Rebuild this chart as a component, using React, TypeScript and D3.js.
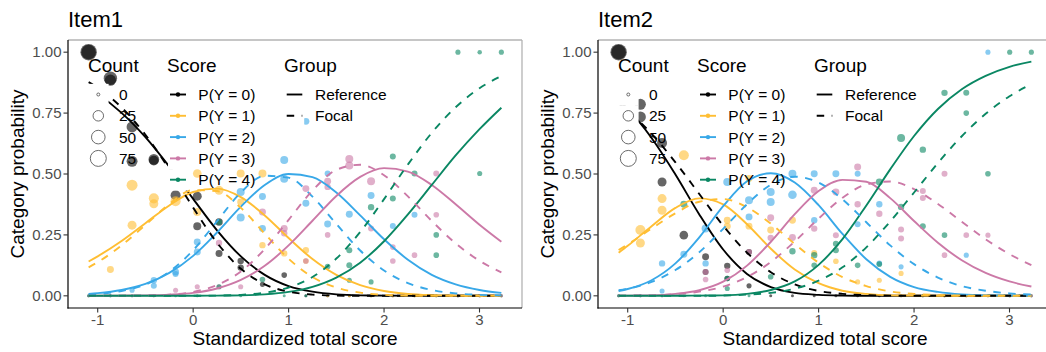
import React from "react";
import * as d3 from "d3";

// ---------------- data ----------------
const scores = [-1.095, -0.867, -0.64, -0.412, -0.184, 0.043, 0.271, 0.498, 0.726, 0.954, 1.181, 1.409, 1.636, 1.864, 2.092, 2.319, 2.547, 2.774, 3.002, 3.229];
const categoryLabels = ["P(Y = 0)", "P(Y = 1)", "P(Y = 2)", "P(Y = 3)", "P(Y = 4)"];
const categoryColors = ["#000000", "#FFBE33", "#38A8E8", "#CC79A7", "#0A8763"];
const countBreaks = [0, 25, 50, 75];
const groupLabels = ["Reference", "Focal"];
const xTicks = [-1, 0, 1, 2, 3];
const yTicks = [0, 0.25, 0.5, 0.75, 1];
const yTickLabels = ["0.00", "0.25", "0.50", "0.75", "1.00"];

// observed proportions: [score index, proportion, count]
const item1Obs0 = [[0, 1, 80], [0, 1, 60], [1, 0.893, 48], [1, 0.885, 30], [2, 0.693, 28], [2, 0.552, 28], [3, 0.56, 26], [3, 0.555, 20], [4, 0.413, 22], [5, 0.409, 16], [5, 0.286, 11], [6, 0.303, 9], [6, 0.174, 7], [7, 0.143, 5], [7, 0.116, 5], [8, 0.047, 2], [9, 0.085, 3]];
const item1Obs1 = [[1, 0.108, 7], [2, 0.454, 28], [2, 0.29, 16], [3, 0.4, 22], [3, 0.378, 16], [4, 0.388, 22], [5, 0.502, 14], [5, 0.344, 11], [6, 0.433, 16], [7, 0.502, 11], [7, 0.385, 7], [8, 0.502, 11], [8, 0.208, 5], [9, 0.174, 5], [10, 0.187, 5], [10, 0.143, 3]];
const item1Obs2 = [[2, 0.023, 2], [3, 0.064, 5], [3, 0.041, 4], [4, 0.098, 7], [4, 0.09, 4], [5, 0.221, 7], [5, 0.18, 7], [7, 0.426, 11], [7, 0.321, 11], [8, 0.408, 7], [8, 0.276, 7], [9, 0.557, 11], [9, 0.48, 11], [10, 0.716, 7], [10, 0.38, 7], [11, 0.502, 4], [11, 0.295, 7], [12, 0.335, 7], [13, 0.412, 7], [14, 0.287, 4], [15, 0.333, 4]];
const item1Obs3 = [[4, 0.023, 2], [5, 0.037, 2], [6, 0.217, 5], [6, 0.037, 2], [7, 0.037, 2], [8, 0.344, 7], [9, 0.276, 7], [9, 0.257, 5], [10, 0.44, 7], [10, 0.143, 3], [11, 0.47, 7], [11, 0.447, 5], [11, 0.25, 3], [12, 0.562, 11], [12, 0.535, 11], [13, 0.47, 11], [13, 0.276, 4], [14, 0.2, 3], [14, 0.143, 3], [15, 0.167, 3], [16, 0.333, 3], [16, 0.502, 4]];
const item1Obs4 = [[6, 0.303, 4], [6, 0.037, 2], [8, 0.067, 3], [11, 0.12, 3], [12, 0.187, 4], [12, 0.125, 4], [12, 0.064, 2], [13, 0.364, 5], [13, 0.057, 2], [14, 0.572, 4], [14, 0.399, 4], [15, 0.502, 4], [16, 0.25, 3], [16, 0.167, 3], [17, 1, 2], [18, 1, 1], [18, 0.502, 2], [19, 1, 2]];
const item1Empty = [[10, 11, 12, 13, 14, 15, 16, 17, 18, 19], [0, 11, 12, 13, 14, 15, 16, 17, 18, 19], [0, 1, 16, 17, 18, 19], [0, 1, 2, 3, 17, 18, 19], [0, 1, 2, 3, 4, 5, 7, 9, 10]];

const item2Obs0 = [[0, 1, 80], [0, 1, 60], [1, 0.786, 28], [1, 0.734, 28], [2, 0.627, 22], [2, 0.467, 16], [3, 0.249, 14], [4, 0.16, 7], [4, 0.098, 4], [5, 0.123, 5], [5, 0.071, 3], [6, 0.18, 4], [6, 0.041, 2]];
const item2Obs1 = [[1, 0.27, 22], [1, 0.217, 16], [2, 0.399, 16], [2, 0.351, 16], [3, 0.577, 22], [5, 0.31, 7], [5, 0.286, 7], [6, 0.482, 7], [6, 0.286, 7], [7, 0.27, 7], [8, 0.31, 7], [9, 0.176, 4], [10, 0.142, 3], [11, 0.057, 2], [12, 0.064, 2], [13, 0.092, 2]];
const item2Obs2 = [[2, 0.133, 5], [2, 0.02, 2], [3, 0.171, 7], [4, 0.276, 11], [4, 0.133, 5], [5, 0.467, 11], [6, 0.392, 11], [6, 0.324, 7], [7, 0.426, 11], [7, 0.385, 11], [8, 0.501, 11], [8, 0.415, 14], [9, 0.501, 7], [9, 0.31, 5], [10, 0.501, 7], [11, 0.501, 4], [11, 0.294, 4], [12, 0.376, 5], [12, 0.133, 3], [13, 0.119, 2], [16, 0.167, 2], [17, 1, 2]];
const item2Obs3 = [[4, 0.098, 4], [4, 0.067, 3], [5, 0.105, 3], [6, 0.18, 4], [7, 0.32, 7], [7, 0.238, 5], [8, 0.239, 7], [9, 0.433, 7], [9, 0.276, 5], [10, 0.426, 7], [10, 0.249, 4], [11, 0.529, 7], [11, 0.376, 5], [12, 0.337, 5], [13, 0.272, 4], [13, 0.235, 4], [14, 0.43, 4], [14, 0.402, 4], [15, 0.501, 4], [15, 0.167, 3], [16, 0.249, 3], [17, 0.249, 2]];
const item2Obs4 = [[3, 0.376, 7], [5, 0.071, 3], [5, 0.03, 2], [7, 0.078, 3], [8, 0.183, 5], [9, 0.167, 5], [9, 0.125, 3], [10, 0.214, 4], [10, 0.187, 4], [11, 0.125, 3], [12, 0.467, 7], [12, 0.13, 3], [13, 0.648, 11], [13, 0.365, 5], [14, 0.6, 5], [14, 0.286, 4], [15, 0.833, 5], [15, 0.249, 3], [16, 0.833, 4], [16, 0.75, 3], [17, 0.501, 3], [18, 1, 2], [19, 1, 2]];
const item2Empty = [[7, 8, 9, 10, 11, 12, 13, 14, 15, 16, 17, 18, 19], [0, 14, 15, 16, 17, 18, 19], [0, 1, 14, 15, 18, 19], [0, 1, 2, 3, 18, 19], [0, 1, 2, 4, 6]];

// fitted category probability curves, read at these scores
const curveGrid = [-1.095, -1, -0.75, -0.5, -0.25, 0, 0.25, 0.5, 0.75, 1, 1.25, 1.5, 1.75, 2, 2.25, 2.5, 2.75, 3, 3.229];
const item1Reference = [
  [0.85, 0.827, 0.751, 0.651, 0.53, 0.398, 0.269, 0.162, 0.086, 0.04, 0.017, 0.006, 0.002, 0.001, 0, 0, 0, 0, 0],
  [0.141, 0.162, 0.225, 0.298, 0.371, 0.426, 0.44, 0.405, 0.33, 0.237, 0.151, 0.086, 0.044, 0.02, 0.008, 0.003, 0.001, 0, 0],
  [0.008, 0.011, 0.024, 0.049, 0.094, 0.164, 0.26, 0.366, 0.455, 0.5, 0.487, 0.424, 0.33, 0.232, 0.148, 0.086, 0.047, 0.024, 0.012],
  [0, 0, 0.001, 0.002, 0.005, 0.012, 0.03, 0.065, 0.123, 0.207, 0.308, 0.41, 0.488, 0.524, 0.51, 0.455, 0.376, 0.292, 0.222],
  [0, 0, 0, 0, 0, 0, 0.001, 0.002, 0.006, 0.016, 0.037, 0.075, 0.136, 0.224, 0.334, 0.455, 0.576, 0.684, 0.772],
];
const item1Focal = [
  [0.877, 0.854, 0.773, 0.661, 0.519, 0.362, 0.218, 0.111, 0.047, 0.017, 0.005, 0.001, 0, 0, 0, 0, 0, 0, 0],
  [0.117, 0.138, 0.207, 0.291, 0.377, 0.434, 0.43, 0.361, 0.255, 0.152, 0.077, 0.034, 0.013, 0.004, 0.001, 0, 0, 0, 0],
  [0.006, 0.008, 0.02, 0.046, 0.099, 0.187, 0.306, 0.424, 0.493, 0.485, 0.407, 0.295, 0.186, 0.104, 0.052, 0.024, 0.01, 0.004, 0.002],
  [0, 0, 0, 0.001, 0.005, 0.016, 0.044, 0.1, 0.192, 0.312, 0.432, 0.517, 0.538, 0.495, 0.408, 0.307, 0.215, 0.144, 0.096],
  [0, 0, 0, 0, 0, 0, 0.001, 0.004, 0.013, 0.034, 0.077, 0.153, 0.262, 0.397, 0.539, 0.669, 0.774, 0.852, 0.902],
];
const item2Reference = [
  [0.803, 0.767, 0.648, 0.498, 0.334, 0.19, 0.09, 0.036, 0.012, 0.004, 0.001, 0, 0, 0, 0, 0, 0, 0, 0],
  [0.177, 0.205, 0.286, 0.361, 0.4, 0.375, 0.294, 0.193, 0.108, 0.052, 0.021, 0.008, 0.002, 0.001, 0, 0, 0, 0, 0],
  [0.02, 0.028, 0.064, 0.133, 0.24, 0.368, 0.47, 0.503, 0.465, 0.372, 0.254, 0.15, 0.078, 0.036, 0.016, 0.006, 0.002, 0.001, 0],
  [0, 0.001, 0.002, 0.008, 0.023, 0.058, 0.124, 0.222, 0.335, 0.43, 0.476, 0.468, 0.401, 0.307, 0.218, 0.146, 0.094, 0.059, 0.038],
  [0, 0, 0, 0, 0.001, 0.002, 0.008, 0.024, 0.059, 0.127, 0.233, 0.371, 0.519, 0.656, 0.767, 0.848, 0.903, 0.94, 0.961],
];
const item2Focal = [
  [0.789, 0.759, 0.665, 0.548, 0.418, 0.288, 0.177, 0.097, 0.047, 0.02, 0.008, 0.003, 0.001, 0, 0, 0, 0, 0, 0],
  [0.188, 0.211, 0.276, 0.339, 0.386, 0.397, 0.364, 0.296, 0.213, 0.136, 0.077, 0.04, 0.018, 0.008, 0.003, 0.001, 0, 0, 0],
  [0.023, 0.029, 0.057, 0.106, 0.179, 0.275, 0.376, 0.456, 0.489, 0.465, 0.396, 0.302, 0.207, 0.13, 0.075, 0.04, 0.021, 0.01, 0.005],
  [0.001, 0.001, 0.002, 0.007, 0.017, 0.038, 0.077, 0.139, 0.223, 0.317, 0.402, 0.457, 0.469, 0.438, 0.377, 0.304, 0.232, 0.171, 0.126],
  [0, 0, 0, 0, 0, 0.001, 0.005, 0.012, 0.029, 0.062, 0.117, 0.199, 0.305, 0.424, 0.545, 0.655, 0.747, 0.819, 0.869],
];

// ---------------- layout ----------------
const W = 1046;
const H = 352;
const PANEL_DX = 530;
const PL = 68, PR = 522, PT = 40, PB = 308;
const FONT = "'Liberation Sans', Arial, Helvetica, sans-serif";
const LINE_W = 1.9;
const DASH = "7.5,7.5";

const xDataMin = d3.min(scores) as number;
const xDataMax = d3.max(scores) as number;
const xPad = (xDataMax - xDataMin) * 0.05;
const x = d3.scaleLinear().domain([xDataMin - xPad, xDataMax + xPad]).range([PL, PR]);
const y = d3.scaleLinear().domain([-0.05, 1.05]).range([PB, PT]);
const r = d3.scaleSqrt().domain([0, 75]).range([1.5, 8]);

const line = d3
  .line<number>()
  .x((_, i) => x(curveGrid[i]))
  .y((d) => y(d))
  .curve(d3.curveMonotoneX);

const ROWS = [94.5, 115.8, 137.1, 158.4, 179.7];
const ROW_H = 21.3;

function Panel({ dx, title, obs, empty, refC, focC }: any) {
  return (
    <g transform={`translate(${dx},0)`} fontFamily={FONT}>
      <text x={PL} y={27} fontSize={22} fill="#000">{title}</text>
      {/* observed points */}
      {obs.map((arr: number[][], c: number) => (
        <g key={"o" + c} fill={categoryColors[c]} fillOpacity={0.6}>
          {arr.map((p, i) => (
            <circle key={i} cx={x(scores[p[0]])} cy={y(p[1])} r={r(p[2])} />
          ))}
          {empty[c].map((k: number, i: number) => (
            <circle key={"e" + i} cx={x(scores[k])} cy={y(0)} r={r(0)} />
          ))}
        </g>
      ))}
      {/* model curves */}
      {refC.map((cv: number[], c: number) => (
        <path key={"r" + c} d={line(cv) as string} fill="none" stroke={categoryColors[c]} strokeWidth={LINE_W} />
      ))}
      {focC.map((cv: number[], c: number) => (
        <path key={"f" + c} d={line(cv) as string} fill="none" stroke={categoryColors[c]} strokeWidth={LINE_W} strokeDasharray={DASH} />
      ))}
      {/* frame */}
      <line x1={PL} x2={PR} y1={PT} y2={PT} stroke="#B3B3B3" strokeWidth={1.3} />
      <line x1={PR} x2={PR} y1={PT} y2={PB} stroke="#B3B3B3" strokeWidth={1.3} />
      <line x1={PL} x2={PL} y1={PT} y2={PB + 0.6} stroke="#000" strokeWidth={1.2} />
      <line x1={PL - 0.6} x2={PR} y1={PB} y2={PB} stroke="#000" strokeWidth={1.2} />
      {/* axes */}
      {yTicks.map((t, i) => (
        <g key={"y" + i}>
          <line x1={PL - 4.5} x2={PL} y1={y(t)} y2={y(t)} stroke="#333" strokeWidth={1.1} />
          <text x={PL - 6.5} y={y(t) + 5.3} fontSize={15} fill="#4D4D4D" textAnchor="end">{yTickLabels[i]}</text>
        </g>
      ))}
      {xTicks.map((t, i) => (
        <g key={"x" + i}>
          <line x1={x(t)} x2={x(t)} y1={PB} y2={PB + 4.5} stroke="#333" strokeWidth={1.1} />
          <text x={x(t)} y={325} fontSize={15} fill="#4D4D4D" textAnchor="middle">{t}</text>
        </g>
      ))}
      <text x={(PL + PR) / 2} y={345} fontSize={19} textAnchor="middle" fill="#000">Standardized total score</text>
      <text transform={`translate(23.5,${(PT + PB) / 2}) rotate(-90)`} fontSize={19} textAnchor="middle" fill="#000">Category probability</text>
      {/* legends (white key backgrounds, transparent elsewhere) */}
      <text x={88} y={72} fontSize={19}>Count</text>
      <text x={167} y={72} fontSize={19}>Score</text>
      <text x={284} y={72} fontSize={19}>Group</text>
      {countBreaks.map((b, i) => (
        <g key={"c" + i}>
          <rect x={88} y={ROWS[i] - ROW_H / 2} width={20.6} height={ROW_H + 0.2} fill="#fff" />
          <circle cx={98.3} cy={ROWS[i]} r={r(b)} fill="none" stroke="#5A5A5A" strokeWidth={0.9} />
          <text x={119} y={ROWS[i] + 5.5} fontSize={15.5}>{b}</text>
        </g>
      ))}
      {categoryLabels.map((lab, i) => (
        <g key={"s" + i}>
          <rect x={168} y={ROWS[i] - ROW_H / 2} width={20} height={ROW_H + 0.2} fill="#fff" />
          <line x1={170} x2={186} y1={ROWS[i]} y2={ROWS[i]} stroke={categoryColors[i]} strokeWidth={LINE_W} />
          <circle cx={178} cy={ROWS[i]} r={2.2} fill={categoryColors[i]} />
          <text x={198.3} y={ROWS[i] + 5.5} fontSize={15.5}>{lab}</text>
        </g>
      ))}
      {groupLabels.map((lab, i) => (
        <g key={"g" + i}>
          <rect x={284.7} y={ROWS[i] - ROW_H / 2} width={19.5} height={ROW_H + 0.2} fill="#fff" />
          <line x1={286.7} x2={302.3} y1={ROWS[i]} y2={ROWS[i]} stroke="#000" strokeWidth={LINE_W} strokeDasharray={i === 1 ? DASH : undefined} />
          <text x={315} y={ROWS[i] + 5.5} fontSize={15.5}>{lab}</text>
        </g>
      ))}
    </g>
  );
}

export default function App() {
  const item1Obs = [item1Obs0, item1Obs1, item1Obs2, item1Obs3, item1Obs4];
  const item2Obs = [item2Obs0, item2Obs1, item2Obs2, item2Obs3, item2Obs4];
  return (
    <svg width={W} height={H} style={{ position: "absolute", left: 0, top: 0, background: "#fff" }}>
      <rect width={W} height={H} fill="#fff" />
      <Panel dx={0} title="Item1" obs={item1Obs} empty={item1Empty} refC={item1Reference} focC={item1Focal} />
      <Panel dx={PANEL_DX} title="Item2" obs={item2Obs} empty={item2Empty} refC={item2Reference} focC={item2Focal} />
    </svg>
  );
}
